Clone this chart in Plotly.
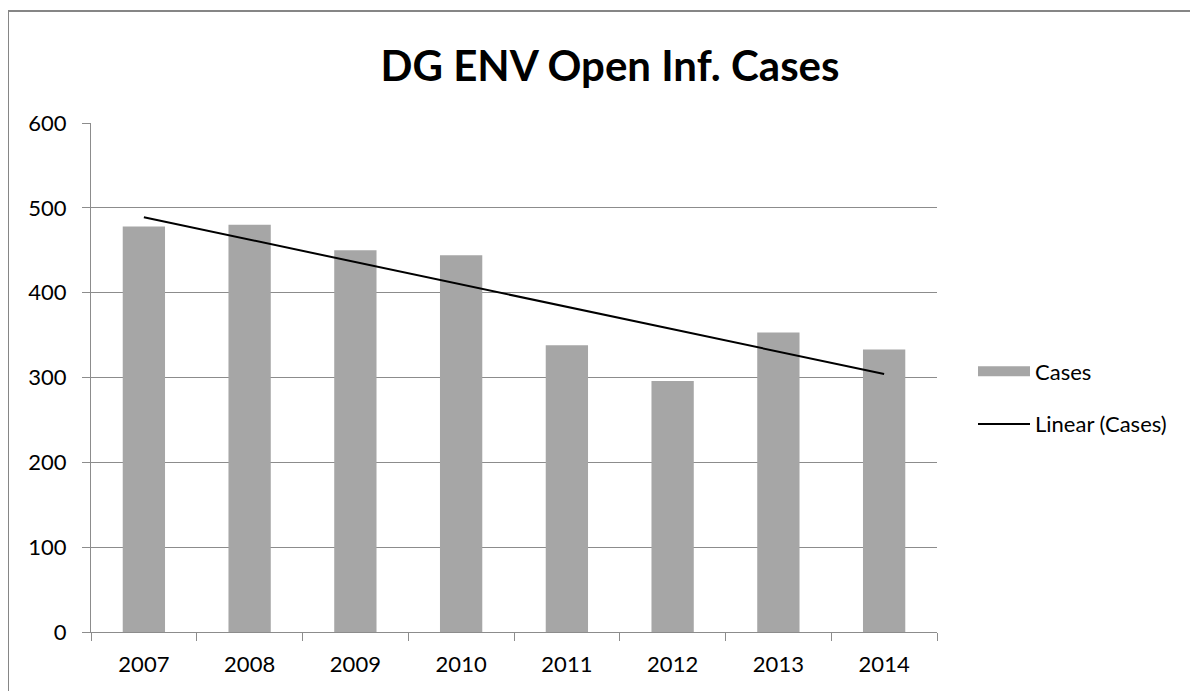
import numpy as np
import plotly.graph_objects as go

years = ["2007", "2008", "2009", "2010", "2011", "2012", "2013", "2014"]
cases = [478, 480, 450, 444, 338, 296, 353, 333]
y_ticks = [0, 100, 200, 300, 400, 500, 600]

# Linear trendline (least squares, as in the spreadsheet "Linear (Cases)")
idx = np.arange(len(cases))
slope, intercept = np.polyfit(idx, cases, 1)
trend = (slope * idx + intercept).tolist()

FONT = "Lato"
GRID = "#8c8c8c"
BAR = "#a6a6a6"

fig = go.Figure()
fig.add_trace(go.Bar(
    x=years, y=cases, name="Cases", legendgroup="a", showlegend=False,
    marker=dict(color=BAR, line=dict(width=0)),
))
# legend-only entry giving the wide bar swatch of the original legend
fig.add_trace(go.Scatter(
    x=[None], y=[None], name="Cases", mode="lines", legendgroup="a",
    line=dict(color=BAR, width=11), hoverinfo="skip",
))
fig.add_trace(go.Scatter(
    x=years, y=trend, name="Linear (Cases)", mode="lines", legendgroup="b",
    line=dict(color="black", width=2),
))

OFF = 8  # page body margin offset
W, H = 1198 - OFF, 691 - OFF
L, R, T, B = 91 - OFF, 937 - OFF, 123 - OFF, 632 - OFF
pw, ph = R - L, B - T

def px(xp):
    return (xp - OFF - L) / pw

def py(yp):
    return (B - (yp - OFF)) / ph

fig.update_layout(
    width=W, height=H,
    margin=dict(l=L, r=W - R, t=T, b=H - B),
    paper_bgcolor="white", plot_bgcolor="white",
    bargap=0.6,
    font=dict(family=FONT, size=22, color="black"),
    title=dict(text="<b>DG ENV Open Inf. Cases</b>", x=px(610), xref="paper",
               xanchor="center", y=1 - (66 - OFF) / H, yanchor="middle",
               font=dict(family=FONT, size=42, color="black")),
    xaxis=dict(type="category", range=[-0.5, 7.5], showgrid=False,
               showline=True, linecolor=GRID, linewidth=1,
               ticks="outside", tickson="boundaries", ticklen=8,
               tickcolor=GRID, tickfont=dict(size=22), ticklabelstandoff=13),
    yaxis=dict(range=[0, 600], tickvals=y_ticks, showgrid=True,
               gridcolor=GRID, gridwidth=1, showline=True, linecolor=GRID,
               linewidth=1, ticks="outside", ticklen=8, tickcolor=GRID,
               tickfont=dict(size=22), zeroline=False, ticklabelstandoff=11),
    legend=dict(x=px(973), y=py(398), xanchor="left", yanchor="middle",
                font=dict(size=22), itemwidth=52, tracegroupgap=21,
                bgcolor="rgba(0,0,0,0)"),
    showlegend=True,
    shapes=[
        dict(type="line", xref="paper", yref="paper",
             x0=px(8), x1=px(8), y0=py(691 + 10), y1=py(11),
             line=dict(color="#868686", width=2)),
        dict(type="line", xref="paper", yref="paper",
             x0=px(8), x1=px(1198 + 10), y0=py(11), y1=py(11),
             line=dict(color="#868686", width=2)),
    ],
)

fig.write_html("out.html")
